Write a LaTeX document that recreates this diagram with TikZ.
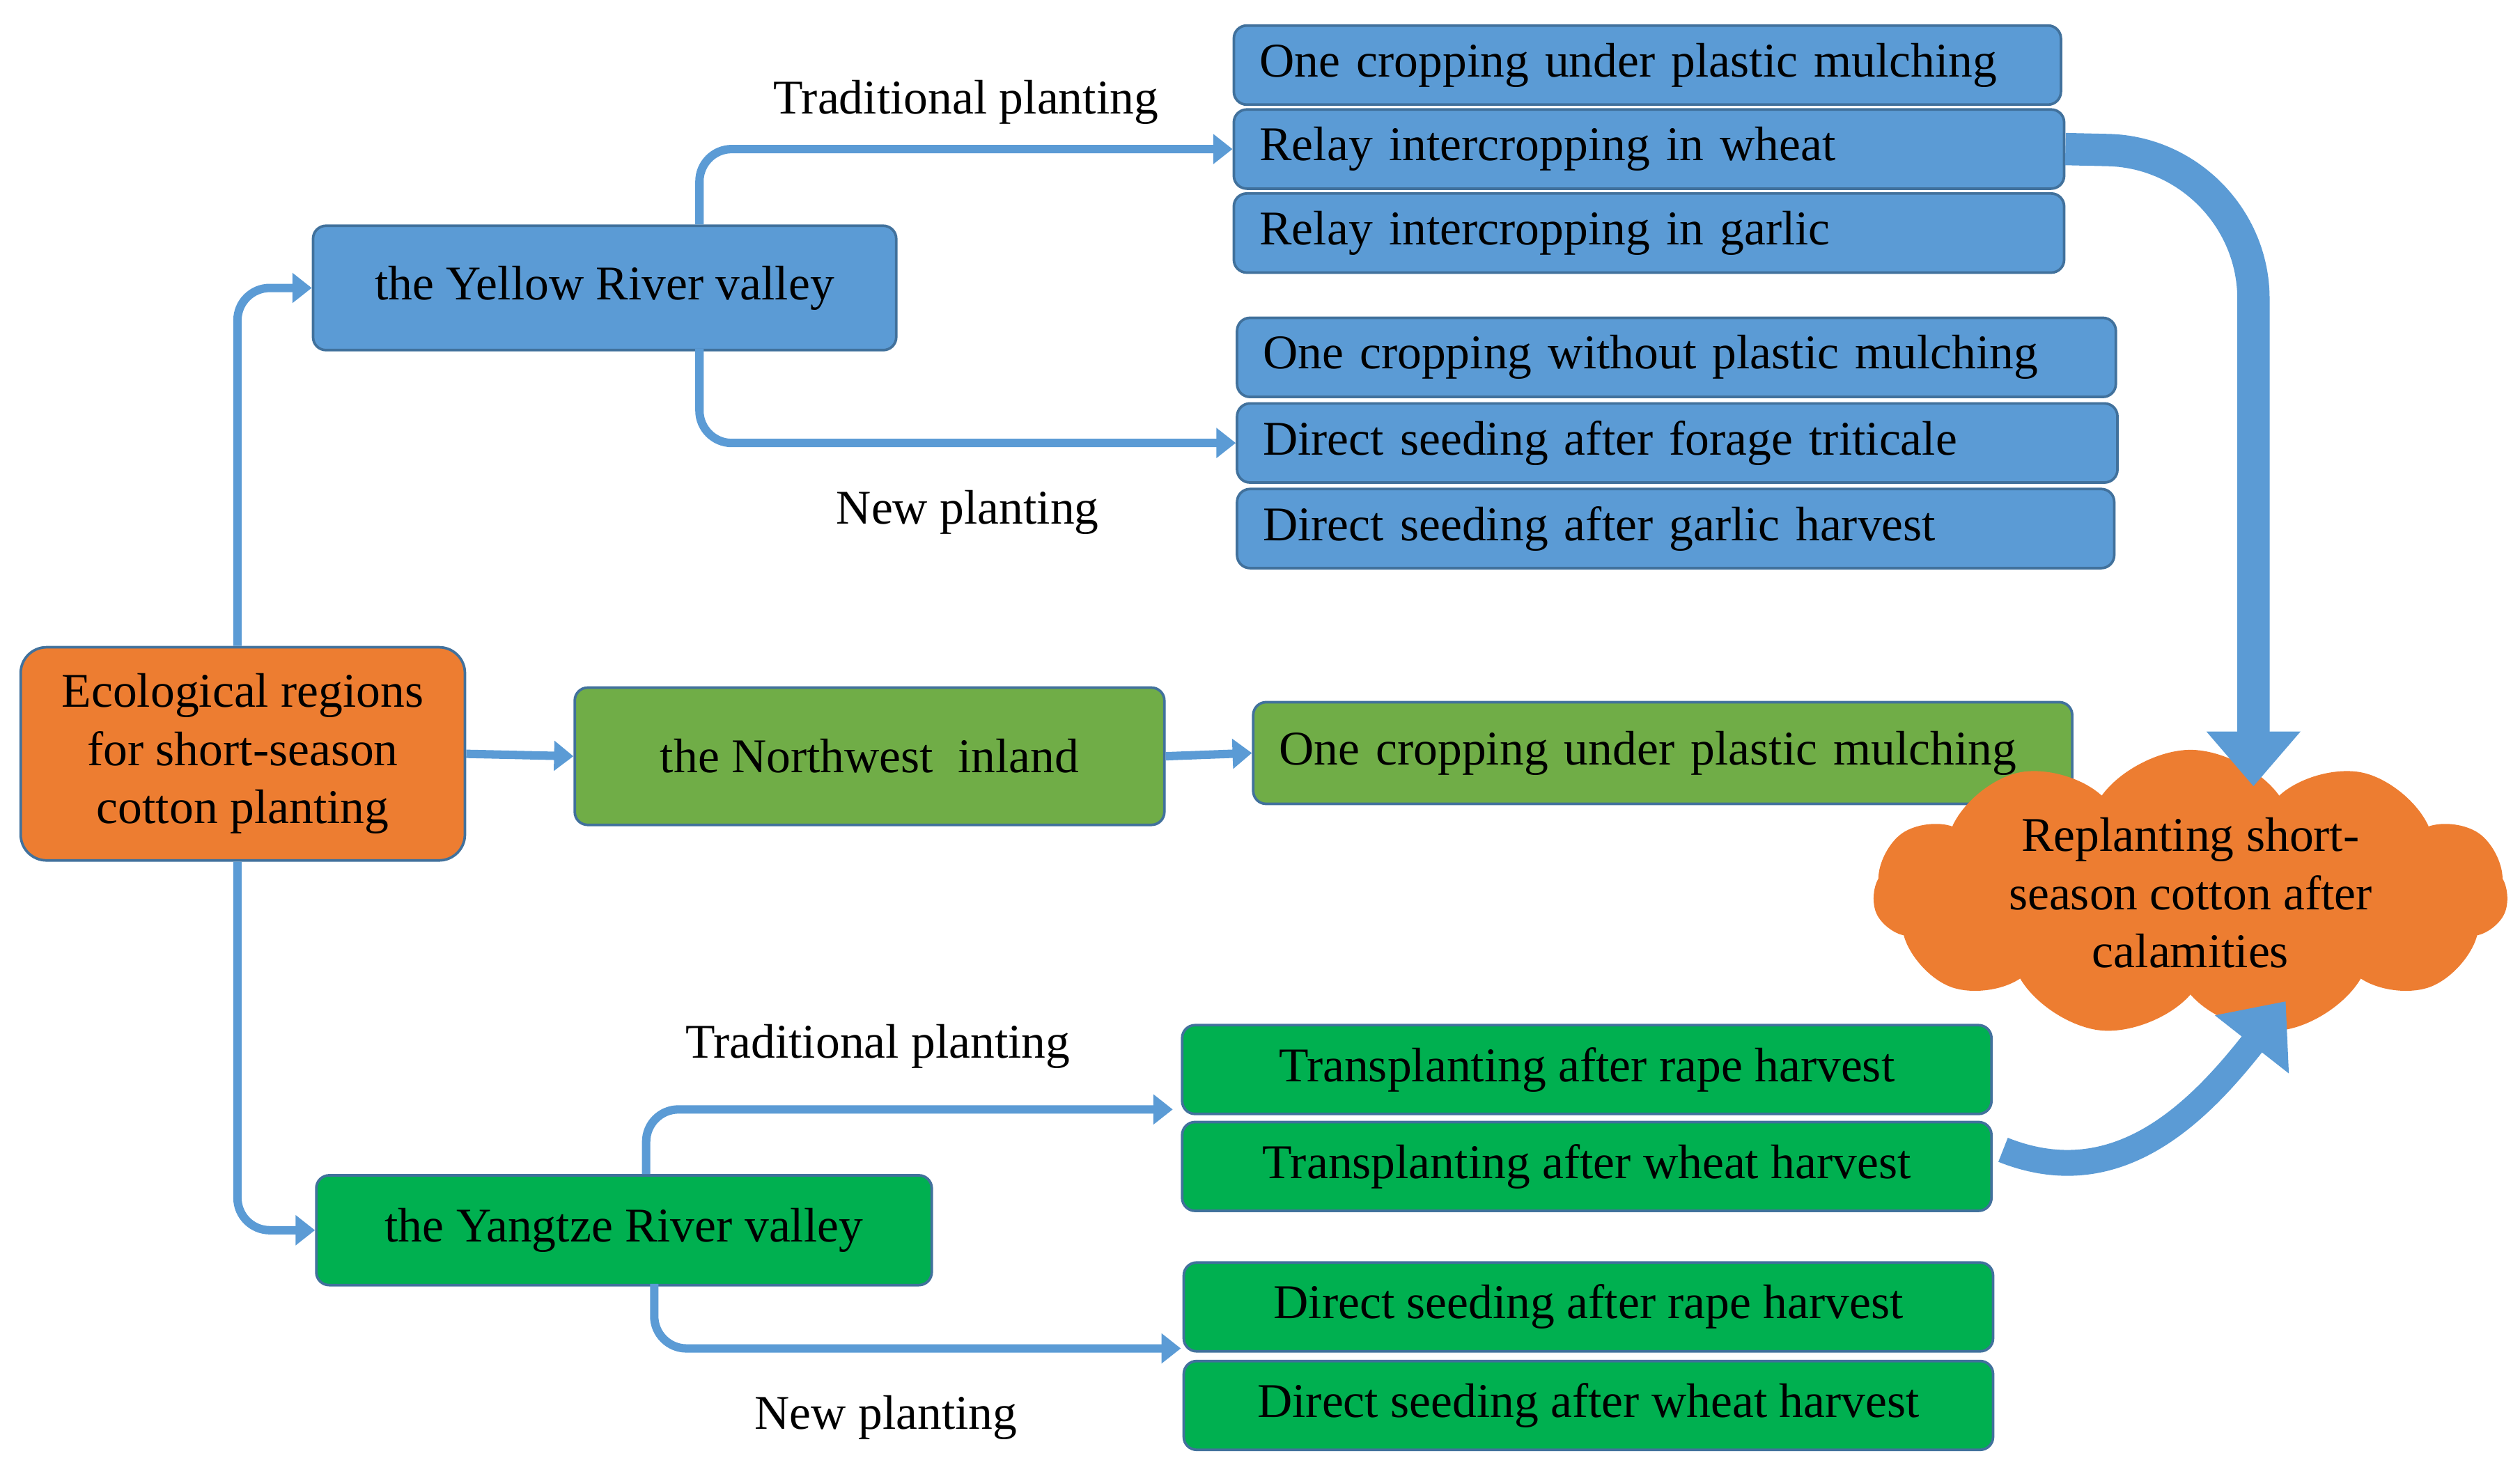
\documentclass[tikz,border=0pt]{standalone}
\usepackage{fontspec}
\setmainfont{Liberation Serif}
\usetikzlibrary{arrows.meta,shapes.symbols}
\definecolor{blu}{HTML}{5B9BD5}
\definecolor{bdr}{HTML}{41719C}
\definecolor{org}{HTML}{ED7D31}
\definecolor{lgr}{HTML}{70AD47}
\definecolor{dgr}{HTML}{00B050}
\begin{document}
\begin{tikzpicture}[x=0.5pt,y=-0.5pt,font=\fontsize{15}{18}\selectfont,
  box/.style={draw=bdr,line width=0.8pt,rounded corners=4pt,inner sep=0pt,anchor=north west},
  conn/.style={draw=blu,line width=2.6pt,rounded corners=10pt,-{Triangle[length=6pt,width=9pt]}},
  big/.style={draw=blu,line width=10pt,-{Triangle[length=17pt,width=28pt]}}]
\useasboundingbox (0,0) rectangle (1560,907);
\newcommand{\bx}[7]{\node[box,fill=#5,minimum width=#3*0.5pt,minimum height=#4*0.5pt,align=center,#6] (#7) at (#1,#2) {#6};}
% main boxes
\node[box,fill=org,minimum width=137.5pt,minimum height=66pt,align=center,rounded corners=8pt] (eco) at (12,400) {Ecological regions\\for short-season\\cotton planting};
\node[box,fill=blu,minimum width=180.5pt,minimum height=38.5pt] (yr) at (193,139) {the Yellow River valley};
\node[box,fill=lgr,minimum width=182.5pt,minimum height=42.5pt] (nw) at (355,425) {the Northwest\ \ inland};
\node[box,fill=dgr,minimum width=190.5pt,minimum height=34pt] (yz) at (195,727) {the Yangtze River valley};
% blue right boxes
\tikzset{lb/.style={box,fill=blu,text width=#1,align=left,inner xsep=8pt,minimum height=24.5pt}}
\node[lb=240pt] (b1) at (763,15) {One cropping under plastic mulching};
\node[lb=241pt] (b2) at (763,67) {Relay intercropping in wheat};
\node[lb=241pt] (b3) at (763,119) {Relay intercropping in garlic};
\node[lb=256pt] (b4) at (765,196) {One cropping without plastic mulching};
\node[lb=256.5pt] (b5) at (765,249) {Direct seeding after forage triticale};
\node[lb=255.5pt] (b6) at (765,302) {Direct seeding after garlic harvest};
\node[box,fill=lgr,text width=237.5pt,align=left,inner xsep=8pt,minimum height=31.5pt] (g0) at (775,434) {One cropping under plastic mulching};
\tikzset{gb/.style={box,fill=dgr,minimum width=250.5pt,minimum height=27.5pt}}
\node[gb] (g1) at (731,634) {Transplanting after rape harvest};
\node[gb] (g2) at (731,694) {Transplanting after wheat harvest};
\node[gb] (g3) at (732,781) {Direct seeding after rape harvest};
\node[gb] (g4) at (732,842) {Direct seeding after wheat harvest};
% cloud
\node[cloud,cloud puffs=11,cloud puff arc=110,aspect=2.6,fill=org,draw=org,minimum width=196pt,minimum height=66pt,align=center,inner sep=0pt] (cl) at (1356,553) {Replanting short-\\season cotton after\\calamities};
% connectors
\coordinate (yrt) at (433,139); \coordinate (yrb) at (433,216);
\coordinate (yzt) at (400,727); \coordinate (yzb) at (405,795);
\draw[conn] (eco.north -| 147,0) |- (yr.west);
\draw[conn] (eco.south -| 147,0) |- (yz.west);
\draw[conn] (eco.east) -- (nw.west);
\draw[conn] (nw.east) -- (g0.west);
\draw[conn] (yrt) |- (b2.west) node[pos=0.75,above=3pt,black]{Traditional planting};
\draw[conn] (yrb) |- (b5.west) node[pos=0.75,below=10pt,black]{New planting};
\coordinate (g1e) at (726,687); \coordinate (g3e) at (731,835);
\draw[conn] (yzt) |- (g1e) node[pos=0.72,above=8pt,black]{Traditional planting};
\draw[conn] (yzb) |- (g3e) node[pos=0.72,below=10pt,black]{New planting};
% big arrows
\coordinate (bt) at (1395,487);
\draw[big,rounded corners=45pt] (b2.east) -- (1395,95) -- (bt);
\coordinate (cs) at (1240,712); \coordinate (ce) at (1415,620);
\draw[big,line width=8pt] (cs) .. controls (1310,740) and (1360,690) .. (ce);
\end{tikzpicture}
\end{document}
